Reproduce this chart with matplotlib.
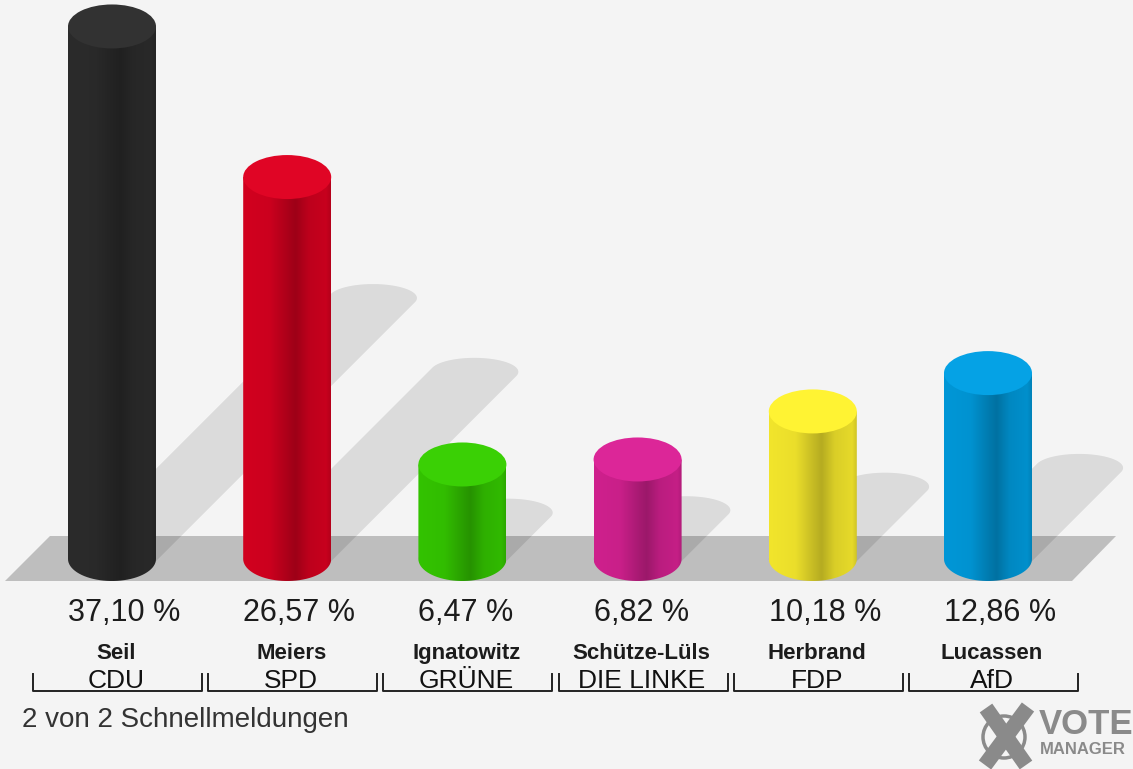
import numpy as np
import matplotlib.pyplot as plt
from matplotlib.patches import Ellipse, Polygon, PathPatch, Circle
from matplotlib.path import Path
from matplotlib.colors import to_rgb

candidates = ['Seil', 'Meiers', 'Ignatowitz', 'Schütze-Lüls', 'Herbrand', 'Lucassen']
parties = ['CDU', 'SPD', 'GRÜNE', 'DIE LINKE', 'FDP', 'AfD']
shares = [37.10, 26.57, 6.47, 6.82, 10.18, 12.86]
colors = ['#2b2b2b', '#d2001f', '#33c300', '#cf208d', '#f2e52c', '#0097d7']
footer = '2 von 2 Schnellmeldungen'

W, H = 1133, 769
BG = '#f4f4f4'
BASE_Y = 559          # centre of the bottom ellipse, in pixels
PX_PER_PCT = 14.3     # vertical scale
RX, RY = 44, 22       # cylinder ellipse radii
SRY = 14              # shadow ellipse half height
X0, STEP = 112, 175.2


def hull(pts):
    # monotone chain convex hull
    pts = sorted(map(tuple, pts))
    def cross(o, a, b):
        return (a[0] - o[0]) * (b[1] - o[1]) - (a[1] - o[1]) * (b[0] - o[0])
    lower, upper = [], []
    for p in pts:
        while len(lower) >= 2 and cross(lower[-2], lower[-1], p) <= 0:
            lower.pop()
        lower.append(p)
    for p in reversed(pts):
        while len(upper) >= 2 and cross(upper[-2], upper[-1], p) <= 0:
            upper.pop()
        upper.append(p)
    return lower[:-1] + upper[:-1]


plt.rcParams['font.family'] = ['Liberation Sans', 'DejaVu Sans']
fig = plt.figure(figsize=(W / 100, H / 100), dpi=100, facecolor=BG)
ax = fig.add_axes([0, 0, 1, 1])
ax.set_facecolor(BG)

# floor band
ax.add_patch(Polygon([(5, 581), (50, 536), (1116, 536), (1072, 581)],
                     closed=True, facecolor='#bebebe', lw=0, zorder=1))

prof_x = [0, 0.3, 0.5, 0.6, 0.75, 0.95, 1]
prof_f = [1.0, 0.97, 0.82, 0.75, 0.9, 0.95, 0.86]
t = np.linspace(0, 2 * np.pi, 120)

for i, v in enumerate(shares):
    cx = X0 + i * STEP
    h = v * PX_PER_PCT + 2
    yt = BASE_Y - h

    # shadow: flattened base ellipse swept up-right at 45 degrees
    d = 0.49 * h
    ex, ey = RX * np.cos(t), SRY * np.sin(t)
    pts = np.concatenate([np.c_[cx + ex, BASE_Y + ey],
                          np.c_[cx + d + ex, BASE_Y - d + ey]])
    ax.add_patch(Polygon(hull(pts), closed=True, facecolor='k', alpha=0.1,
                         lw=0, zorder=2))

    # body with horizontal shading
    th = np.linspace(np.pi, 0, 40)
    verts = [(cx - RX, yt), (cx - RX, BASE_Y)]
    verts += list(zip(cx + RX * np.cos(th), BASE_Y + RY * np.sin(th)))
    verts += [(cx + RX, yt), (cx - RX, yt)]
    body = Path(verts, closed=True)
    base = np.array(to_rgb(colors[i]))
    fx = np.interp(np.linspace(0, 1, 100), prof_x, prof_f)
    grad = np.clip(base[None, :] * fx[:, None], 0, 1)[None, :, :]
    im = ax.imshow(grad, extent=(cx - RX, cx + RX, BASE_Y + RY, yt),
                   aspect='auto', interpolation='bilinear', zorder=3)
    im.set_clip_path(PathPatch(body, transform=ax.transData))

    # top cap
    top = np.clip(base * 1.04 + 0.02, 0, 1)
    ax.add_patch(Ellipse((cx, yt), 2 * RX, 2 * RY, facecolor=top,
                         lw=0, zorder=4))

    # labels
    ax.text(cx - RX, 613, f'{v:.2f}'.replace('.', ',') + ' %', ha='left',
            va='center', fontsize=22, color='#1c1c1c')
    ax.text(cx + 4, 659, candidates[i], ha='center', va='baseline',
            fontsize=16, fontweight='bold', color='#1c1c1c')
    ax.text(cx + 4, 688, parties[i], ha='center', va='baseline',
            fontsize=19, color='#111111')
    l, r = cx - 79, cx + 90
    ax.plot([l, l, r, r], [674, 691, 691, 674], color='#222222', lw=1.4,
            zorder=5)

ax.text(22, 720, footer, ha='left', va='center', fontsize=20,
        color='#333333')

# VOTE MANAGER logo
logo = '#8a8a8a'
ax.add_patch(Circle((1004, 737), 21, facecolor='none', edgecolor=logo,
                    lw=2.5, zorder=5))
ax.plot([986, 1026], [708, 765], color=logo, lw=11, solid_capstyle='butt',
        zorder=6)
ax.plot([1028, 985], [707, 765], color=logo, lw=11, solid_capstyle='butt',
        zorder=6)
ax.text(1039, 725, 'VOTE', ha='left', va='center', fontsize=25,
        fontweight='bold', color=logo)
ax.text(1040, 750, 'MANAGER', ha='left', va='center', fontsize=12,
        fontweight='bold', color=logo)

ax.set_xlim(0, W)
ax.set_ylim(H, 0)
ax.axis('off')
fig.savefig('out.png', dpi=100, facecolor=BG)
